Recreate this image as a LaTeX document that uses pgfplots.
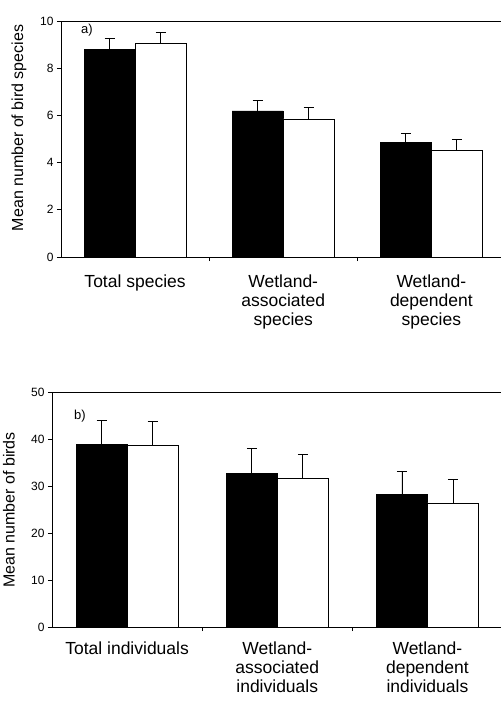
\documentclass[border=0pt]{standalone}
\usepackage{fontspec}
\setmainfont{Liberation Sans}
\usepackage{pgfplots}
\pgfplotsset{compat=1.18}
\pgfplotsset{
 panel/.style={
  scale only axis,
  axis x line*=bottom, axis y line*=left,
  axis line style={-, line width=0.8pt},
  ybar=0pt, bar width=51pt,
  xtick={0.5,1.5}, xticklabels={},
  extra x ticks={0,1,2},
  extra x tick style={grid=none, major tick length=0pt},
  tick align=outside, major tick length=4pt,
  tick style={black, line width=0.8pt},
  xticklabel style={align=center, font=\fontsize{17.5}{19}\selectfont},
  yticklabel style={font=\fontsize{12}{14}\selectfont},
  /pgf/number format/assume math mode=true,
  ymin=0, xmin=-0.5,
  ylabel style={font=\fontsize{16}{18}\selectfont},
  error bars/y dir=plus, error bars/y explicit,
  error bars/error mark options={rotate=90, mark size=5pt, line width=0.8pt},
  error bars/error bar style={line width=0.8pt},
 },
 blackbar/.style={fill=black, draw=black},
 whitebar/.style={fill=white, draw=black, line width=0.8pt},
}
\begin{document}
\begin{tikzpicture}
\begin{axis}[panel,
  at={(61pt,-257pt)}, anchor=south west,
  width=440pt, height=236pt, xmax=2.47, ymax=10,
  ytick={0,2,4,6,8,10},
  xticklabel style={yshift=-14pt},
  extra x tick labels={{Total species},{Wetland-\\associated\\species},{Wetland-\\dependent\\species}},
  ylabel={Mean number of bird species},
  every axis y label/.append style={at={(rel axis cs:-0.0955,0.547)}, anchor=center},
]
\addplot[blackbar] coordinates {(0,8.8) +- (0,0.48) (1,6.19) +- (0,0.46) (2,4.87) +- (0,0.38)};
\addplot[whitebar] coordinates {(0,9.07) +- (0,0.43) (1,5.85) +- (0,0.51) (2,4.5) +- (0,0.5)};
\draw[line width=0.8pt] (rel axis cs:0,1) -- (rel axis cs:1,1);
\node[font=\fontsize{13}{15}\selectfont] at (rel axis cs:0.059,0.962) {a)};
\end{axis}
\begin{axis}[panel,
  at={(52pt,-627pt)}, anchor=south west,
  width=449pt, height=235pt, xmax=2.49, ymax=50,
  ytick={0,10,20,30,40,50},
  xticklabel style={yshift=-11pt},
  extra x tick labels={{Total individuals},{Wetland-\\associated\\individuals},{Wetland-\\dependent\\individuals}},
  ylabel={Mean number of birds},
  every axis y label/.append style={at={(rel axis cs:-0.0958,0.498)}, anchor=center},
]
\addplot[blackbar] coordinates {(0,38.9) +- (0,5.1) (1,32.7) +- (0,5.3) (2,28.3) +- (0,4.9)};
\addplot[whitebar] coordinates {(0,38.7) +- (0,5.1) (1,31.7) +- (0,5.1) (2,26.4) +- (0,5.1)};
\draw[line width=0.8pt] (rel axis cs:0,1) -- (rel axis cs:1,1);
\node[font=\fontsize{13}{15}\selectfont] at (rel axis cs:0.062,0.898) {b)};
\end{axis}
\pgfresetboundingbox
\useasboundingbox (0,0) rectangle (501pt,-707pt);
\end{tikzpicture}
\end{document}
